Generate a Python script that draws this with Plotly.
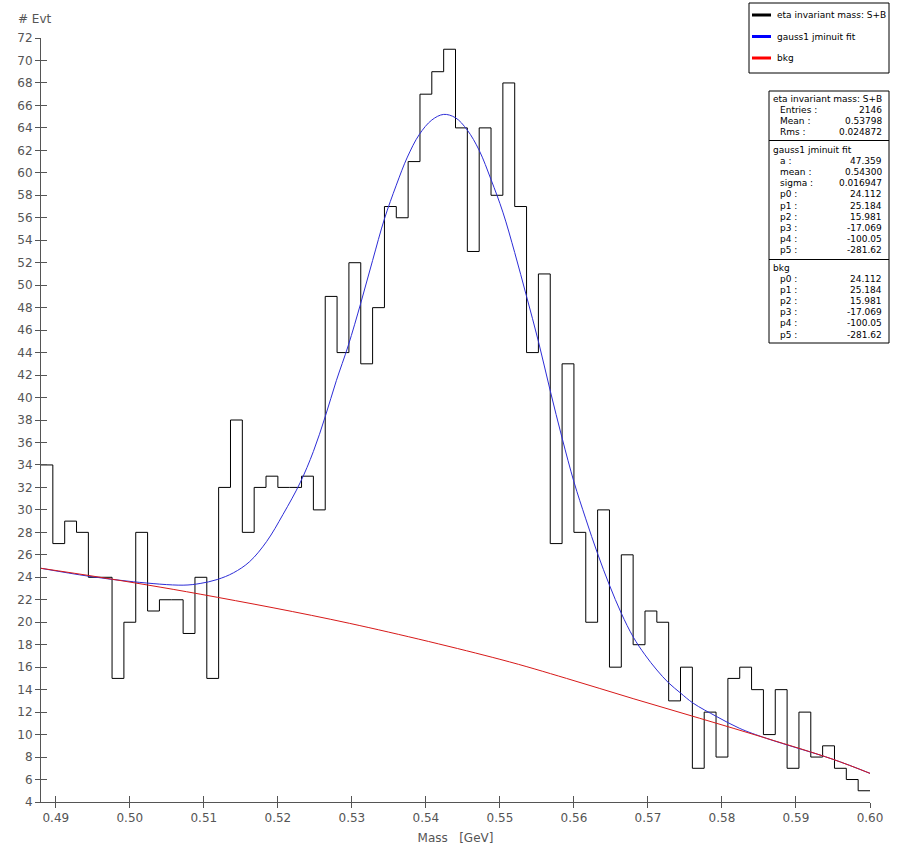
import numpy as np
import plotly.graph_objects as go

# eta invariant mass histogram, 70 bins between 0.488 and 0.600 GeV
mass_lo, mass_hi, n_bins = 0.488, 0.600, 70
counts = [34, 27, 29, 28, 24, 24, 15, 20, 28, 21, 22, 22, 19, 24, 15, 32, 38, 28,
          32, 33, 32, 32, 33, 30, 49, 44, 52, 43, 48, 57, 56, 61, 67, 69, 71, 64,
          53, 64, 58, 68, 57, 44, 51, 27, 43, 28, 20, 30, 16, 26, 18, 21, 20, 13,
          16, 7, 12, 8, 15, 16, 14, 10, 14, 7, 12, 8, 9, 7, 6, 5]

# fit curves
fit_mass = [0.4880, 0.4944, 0.5005, 0.5072, 0.5095, 0.5118, 0.5140, 0.5162,
            0.5185, 0.5207, 0.5230, 0.5248, 0.5264, 0.5279, 0.5295, 0.5312,
            0.5328, 0.5344, 0.5360, 0.5375, 0.5391, 0.5408, 0.5424, 0.5440,
            0.5456, 0.5472, 0.5488, 0.5504, 0.5520, 0.5536, 0.5552, 0.5568,
            0.5584, 0.5600, 0.5616, 0.5632, 0.5648, 0.5664, 0.5680, 0.5696,
            0.5712, 0.5728, 0.5744, 0.5761, 0.5793, 0.5824, 0.5860, 0.5950, 0.6000]
fit_evt = [24.8, 24.1, 23.6, 23.3, 23.45, 23.8, 24.4, 25.4,
           27.2, 29.6, 32.4, 35.2, 38.3, 41.5, 44.6, 48.4,
           52.2, 55.9, 58.9, 61.4, 63.4, 64.7, 65.2, 64.9,
           63.8, 62.0, 59.4, 56.5, 52.9, 49.0, 45.0, 40.6,
           36.4, 32.5, 29.2, 26.1, 23.3, 20.8, 18.7, 17.1,
           15.75, 14.6, 13.7, 12.8, 11.6, 10.55, 9.67, 7.8, 6.55]
bkg_mass = [0.4880, 0.4960, 0.5095, 0.5297, 0.5500, 0.5590, 0.5680, 0.5770, 0.5860, 0.5950, 0.6000]
bkg_evt = [24.8, 24.0, 22.5, 19.9, 16.7, 15.0, 13.2, 11.45, 9.67, 7.8, 6.55]

hist_name = "eta invariant mass: S+B"
fit_name = "gauss1 jminuit fit"
bkg_name = "bkg"

hist_labels = ["Entries :", "Mean :", "Rms :"]
hist_values = ["2146", "0.53798", "0.024872"]
fit_labels = ["a :", "mean :", "sigma :", "p0 :", "p1 :", "p2 :", "p3 :", "p4 :", "p5 :"]
fit_values = ["47.359", "0.54300", "0.016947", "24.112", "25.184", "15.981", "-17.069", "-100.05", "-281.62"]
bkg_labels = ["p0 :", "p1 :", "p2 :", "p3 :", "p4 :", "p5 :"]
bkg_values = ["24.112", "25.184", "15.981", "-17.069", "-100.05", "-281.62"]

x_ticks = [0.49, 0.50, 0.51, 0.52, 0.53, 0.54, 0.55, 0.56, 0.57, 0.58, 0.59, 0.60]

edges = np.linspace(mass_lo, mass_hi, n_bins + 1)

BLUE = "rgb(45,45,215)"
RED = "rgb(215,25,25)"
GREY = "#555555"
FONT = "DejaVu Sans"

# plot area in pixels: x 41..870, y 38..802
def px(x):
    return (x - 41) / 829.0

def py(y):
    return (802 - y) / 764.0

fig = go.Figure()
fig.add_trace(go.Scatter(x=list(edges), y=counts + [counts[-1]], mode="lines",
                         name=hist_name, line=dict(color="black", width=1, shape="hv"),
                         hoverinfo="skip"))
fig.add_trace(go.Scatter(x=fit_mass, y=fit_evt, mode="lines", name=fit_name,
                         line=dict(color=BLUE, width=1, shape="spline", smoothing=1.0)))
fig.add_trace(go.Scatter(x=bkg_mass, y=bkg_evt, mode="lines", name=bkg_name,
                         line=dict(color=RED, width=1, shape="spline", smoothing=1.0)))

# empty trace for the overlay axes (inner half of the ticks)
fig.add_trace(go.Scatter(x=[None], y=[None], xaxis="x2", yaxis="y2",
                         showlegend=False, hoverinfo="skip"))

shapes = []
annotations = []

def box(x0, y0, x1, y1):
    shapes.append(dict(type="rect", xref="paper", yref="paper",
                       x0=px(x0), x1=px(x1), y0=py(y0), y1=py(y1),
                       fillcolor="white", line=dict(color="black", width=1)))

def hline(x0, x1, y, color="black", width=1):
    shapes.append(dict(type="line", xref="paper", yref="paper",
                       x0=px(x0), x1=px(x1), y0=py(y), y1=py(y),
                       line=dict(color=color, width=width)))

def text(s, x, y, anchor="left", size=9, color="black"):
    annotations.append(dict(text=s, x=px(x), y=py(y), xref="paper", yref="paper",
                            xanchor=anchor, yanchor="middle", showarrow=False,
                            font=dict(family=FONT, size=size, color=color)))

# legend box
box(749, 3, 889, 73)
for i, (name, col) in enumerate([(hist_name, "black"), (fit_name, "blue"), (bkg_name, "red")]):
    yy = 15 + 21.5 * i
    hline(752, 771, yy, col, 3)
    text(name, 775, yy)

# stats box
box(769, 91, 889, 343)
hline(769, 889, 140.5)
hline(769, 889, 259.5)

def stat_block(title, labels, values, y0):
    text(title, 771, y0)
    for i, (lab, val) in enumerate(zip(labels, values)):
        yy = y0 + 11.1 * (i + 1)
        text(lab, 778, yy)
        text(val, 884, yy, anchor="right")

stat_block(hist_name, hist_labels, hist_values, 99)
stat_block(fit_name, fit_labels, fit_values, 150)
stat_block(bkg_name, bkg_labels, bkg_values, 268)

text("# Evt", 35, 19, anchor="center", size=12, color=GREY)

axis_common = dict(showgrid=False, zeroline=False, tickcolor=GREY,
                   tickfont=dict(family=FONT, size=12, color=GREY))

fig.update_layout(
    width=908, height=852, autosize=False,
    margin=dict(l=41, r=38, t=38, b=50, autoexpand=False),
    plot_bgcolor="white", paper_bgcolor="white",
    font=dict(family=FONT, color=GREY),
    showlegend=False,
    xaxis=dict(range=[mass_lo, mass_hi], tickvals=x_ticks, tickformat=".2f",
               ticks="outside", ticklen=5, showline=True, linecolor=GREY, linewidth=1,
               title=dict(text="Mass\u00a0\u00a0\u00a0[GeV]", standoff=9,
                          font=dict(family=FONT, size=12, color=GREY)),
               **axis_common),
    yaxis=dict(range=[4, 72], dtick=2, tick0=4, ticks="outside", ticklen=5,
               showline=True, linecolor=GREY, linewidth=1, **axis_common),
    xaxis2=dict(range=[mass_lo, mass_hi], tickvals=x_ticks, overlaying="x", anchor="y",
                ticks="inside", ticklen=6, showticklabels=False, showline=False,
                showgrid=False, zeroline=False, tickcolor=GREY),
    yaxis2=dict(range=[4, 72], dtick=2, tick0=4, overlaying="y", anchor="x", side="left",
                ticks="inside", ticklen=6, showticklabels=False, showline=False,
                showgrid=False, zeroline=False, tickcolor=GREY),
    shapes=shapes,
    annotations=annotations,
)

# drop the default page margin so the figure sits at the window's corner
fig.write_html("out.html", config={"displayModeBar": False},
               post_script="document.body.style.margin = '0';")
